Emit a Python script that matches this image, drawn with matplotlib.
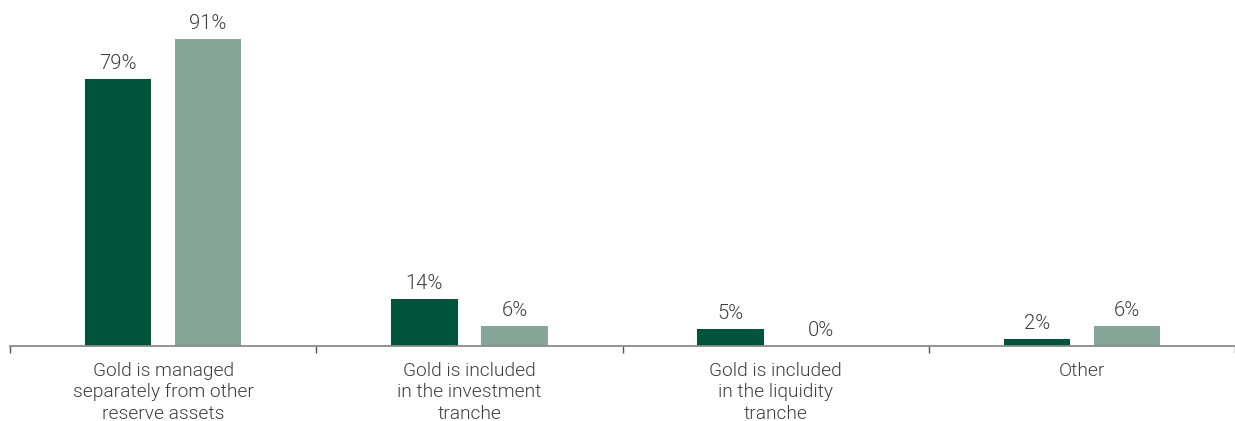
import matplotlib
matplotlib.use("Agg")
import matplotlib.pyplot as plt
import numpy as np

categories = [
    "Gold is managed\nseparately from other\nreserve assets",
    "Gold is included\nin the investment\ntranche",
    "Gold is included\nin the liquidity\ntranche",
    "Other",
]
series_a = [79, 14, 5, 2]
series_b = [91, 6, 0, 6]

DARK = "#00543C"
LIGHT = "#85A698"
TEXT = "#3d3d3d"
AXIS = "#8a8a8a"

plt.rcParams["font.family"] = ["Roboto", "DejaVu Sans"]
plt.rcParams["font.weight"] = 300

W, H = 1235, 421
fig = plt.figure(figsize=(W / 100, H / 100), dpi=100)
left_px, bottom_px = 10, 75
ax = fig.add_axes([left_px / W, bottom_px / H, (W - left_px) / W, (H - bottom_px) / H])

x = np.arange(len(categories))
width = 0.2175
offset = 0.147
bars_a = ax.bar(x - offset, series_a, width, color=DARK, zorder=2)
bars_b = ax.bar(x + offset, series_b, width, color=LIGHT, zorder=2)

for bars, vals in ((bars_a, series_a), (bars_b, series_b)):
    for b, v in zip(bars, vals):
        ax.annotate(f"{v}%", (b.get_x() + b.get_width() / 2, v),
                    xytext=(0, 7.2), textcoords="offset points",
                    ha="center", va="baseline", fontsize=14.6, color=TEXT,
                    fontweight=300)

ax.set_xlim(-0.5, -0.5 + (W - left_px) / 308)
ax.set_ylim(0, (H - bottom_px) / 3.374)

for s in ("top", "right", "left"):
    ax.spines[s].set_visible(False)
ax.spines["bottom"].set_color(AXIS)
ax.spines["bottom"].set_linewidth(1.3)
ax.set_yticks([])

ax.set_xticks(np.arange(len(categories) + 1) - 0.5)
ax.set_xticklabels([])
ax.tick_params(axis="x", which="major", direction="out", length=5.2, width=1, color="#555555")
ax.set_xticks(x, minor=True)
ax.set_xticklabels(categories, minor=True, fontsize=13.8, color=TEXT, linespacing=1.24,
                   fontweight=300)
ax.tick_params(axis="x", which="minor", length=0, pad=11.5)

fig.savefig("out.png", dpi=100)
